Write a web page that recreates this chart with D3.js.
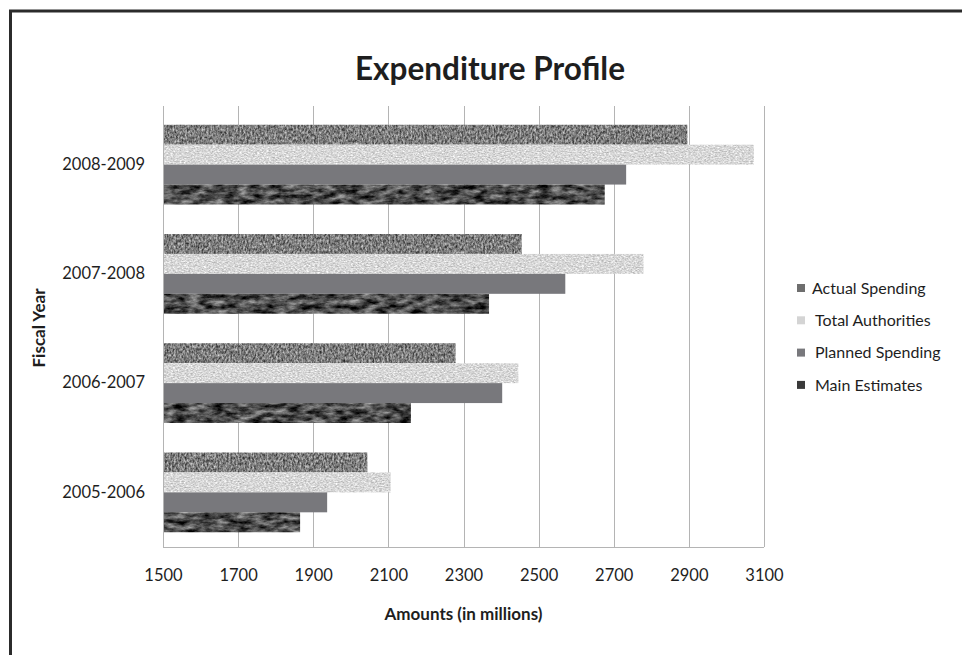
<!DOCTYPE html>
<html>
<head>
<meta charset="utf-8">
<script src="https://cdn.jsdelivr.net/npm/d3@7"></script>
<style>
  body { margin: 0; background: #fff; }
  svg text { font-family: Lato, "Open Sans", sans-serif; fill: #1e1e1e; }
</style>
</head>
<body>
<div id="chart"></div>
<script>
var years = ["2005-2006", "2006-2007", "2007-2008", "2008-2009"];
var series = ["Actual Spending", "Total Authorities", "Planned Spending", "Main Estimates"];
var actualSpending = [2044, 2279, 2455, 2896];
var totalAuthorities = [2106, 2446, 2779, 3073];
var plannedSpending = [1937, 2403, 2571, 2733];
var mainEstimates = [1865, 2160, 2368, 2676];
var xTicks = [1500, 1700, 1900, 2100, 2300, 2500, 2700, 2900, 3100];

var values = [actualSpending, totalAuthorities, plannedSpending, mainEstimates];
var rows = [];
years.forEach(function(y, i) {
  series.forEach(function(s, j) {
    rows.push({year: y, series: s, value: values[j][i], k: j});
  });
});

var width = 962, height = 655;
var svg = d3.select("#chart").append("svg")
    .attr("width", width)
    .attr("height", height);

// textures for the bars (grey fills with noise, like the original print)
var defs = svg.append("defs");
function texture(id, freq, oct, seed, k, off) {
  var f = defs.append("filter").attr("id", id)
      .attr("filterUnits", "userSpaceOnUse")
      .attr("color-interpolation-filters", "sRGB")
      .attr("x", 150).attr("y", 100).attr("width", 640).attr("height", 460);
  f.append("feTurbulence").attr("type", "fractalNoise")
      .attr("baseFrequency", freq).attr("numOctaves", oct).attr("seed", seed).attr("result", "n");
  var row = k + " 0 0 0 " + off;
  f.append("feColorMatrix").attr("in", "n").attr("type", "matrix")
      .attr("values", row + " " + row + " " + row + " 0 0 0 0 1").attr("result", "g");
  f.append("feComposite").attr("in", "g").attr("in2", "SourceGraphic").attr("operator", "in");
}
texture("tex0", "0.55 0.35", 3, 4, 0.9, 0.04);
texture("tex1", "0.45 0.8", 3, 7, 0.45, 0.62);
texture("tex3", "0.08 0.2", 4, 2, 1.0, -0.2);

var fills = ["#707070", "#d6d6d6", "#78787c", "#3e3e3e"];
var filters = ["url(#tex0)", "url(#tex1)", null, "url(#tex3)"];

// outer frame
svg.append("rect")
    .attr("x", 10.5).attr("y", 11)
    .attr("width", 980).attr("height", 700)
    .attr("fill", "none")
    .attr("stroke", "#2b2b2b")
    .attr("stroke-width", 3);

var x = d3.scaleLinear().domain([1500, 3100]).range([163, 764]);
var y0 = d3.scaleBand().domain(years.slice().reverse()).range([110, 547])
    .paddingInner(0.27).paddingOuter(0.135);
var y1 = d3.scaleBand().domain(series).range([0, y0.bandwidth()]);

// gridlines
var g = svg.append("g");
g.selectAll(".grid")
    .data(xTicks)
  .enter().append("line")
    .attr("class", "grid")
    .attr("x1", function(d) { return Math.round(x(d)) + 0.5; })
    .attr("x2", function(d) { return Math.round(x(d)) + 0.5; })
    .attr("y1", 106)
    .attr("y2", 547)
    .attr("stroke", "#b4b4b4")
    .attr("stroke-width", 1);

g.append("line")
    .attr("x1", x(1500)).attr("x2", x(3100))
    .attr("y1", 547.5).attr("y2", 547.5)
    .attr("stroke", "#b4b4b4");

// bars
g.selectAll(".bar")
    .data(rows)
  .enter().append("rect")
    .attr("class", "bar")
    .attr("x", x(1500) + 1)
    .attr("y", function(d) { return y0(d.year) + y1(d.series); })
    .attr("width", function(d) { return x(d.value) - x(1500) - 1; })
    .attr("height", y1.bandwidth())
    .attr("fill", function(d) { return fills[d.k]; })
    .attr("filter", function(d) { return filters[d.k]; });

// x axis labels
var xAxis = d3.axisBottom(x).tickValues(xTicks).tickSize(0).tickPadding(0).tickFormat(d3.format("d"));
var xa = svg.append("g").attr("transform", "translate(0,569)").call(xAxis);
xa.select(".domain").remove();
xa.selectAll("text").attr("font-size", "16.5px").attr("dy", "0.71em")
    .style("font-family", "Lato").attr("fill", "#1e1e1e");

// y axis labels
var yAxis = d3.axisLeft(y0).tickSize(0).tickPadding(0);
var ya = svg.append("g").attr("transform", "translate(145,0)").call(yAxis);
ya.select(".domain").remove();
ya.selectAll("text").attr("font-size", "16.5px")
    .style("font-family", "Lato").attr("fill", "#1e1e1e");

// titles
svg.append("text")
    .attr("x", 490).attr("y", 80)
    .attr("text-anchor", "middle")
    .attr("font-size", "31.5px")
    .attr("font-weight", "bold")
    .text("Expenditure Profile");

svg.append("text")
    .attr("x", (x(1500) + x(3100)) / 2).attr("y", 620)
    .attr("text-anchor", "middle")
    .attr("font-size", "17px")
    .attr("font-weight", "bold")
    .text("Amounts (in millions)");

svg.append("text")
    .attr("transform", "translate(45,328) rotate(-90)")
    .attr("text-anchor", "middle")
    .attr("font-size", "17px")
    .attr("font-weight", "bold")
    .text("Fiscal Year");

// legend
var swatch = ["#6e6e6e", "#d4d4d4", "#78787c", "#3a3a3a"];
var legend = svg.append("g").selectAll(".legend")
    .data(series)
  .enter().append("g")
    .attr("class", "legend")
    .attr("transform", function(d, i) { return "translate(797," + (288 + i * 32.3) + ")"; });

legend.append("rect")
    .attr("x", 0).attr("y", -4)
    .attr("width", 8).attr("height", 8)
    .attr("fill", function(d, i) { return swatch[i]; });

legend.append("text")
    .attr("x", function(d, i) { return i === 0 ? 15 : 18; })
    .attr("dy", "0.35em")
    .attr("font-size", "16px")
    .text(function(d) { return d; });
</script>
</body>
</html>
